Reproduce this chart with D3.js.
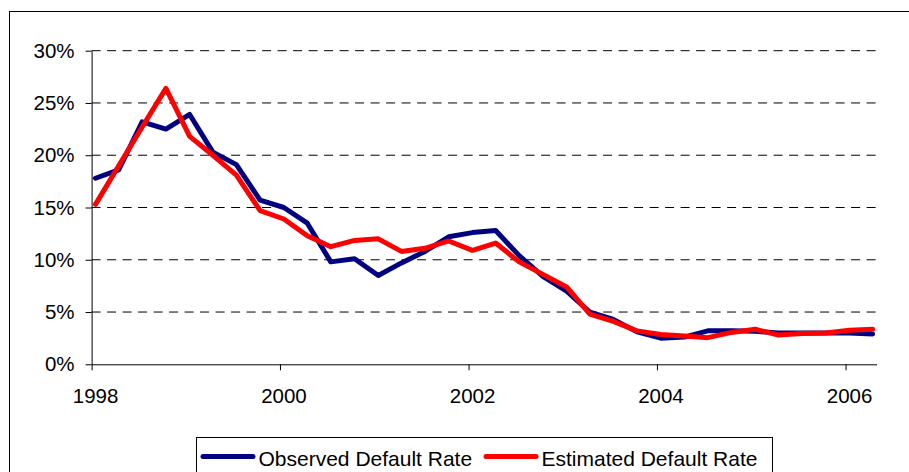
<!DOCTYPE html>
<html lang="en">
<head>
    <meta charset="utf-8">
    <script src="https://d3js.org/d3.v7.min.js"></script>
    <style>
        body { margin: 0; background: #fff; }
        text { font-family: Arial, "Liberation Sans", sans-serif; fill: #000; }
    </style>
</head>
<body>
    <svg id="chart"></svg>

    <script type="text/javascript" charset="utf-8">
        // quarterly observations, 1998 Q1 .. 2006 Q2
        const quarters = [
            "1998-01-16", "1998-04-16", "1998-07-16", "1998-10-16",
            "1999-01-16", "1999-04-16", "1999-07-16", "1999-10-16",
            "2000-01-16", "2000-04-16", "2000-07-16", "2000-10-16",
            "2001-01-16", "2001-04-16", "2001-07-16", "2001-10-16",
            "2002-01-16", "2002-04-16", "2002-07-16", "2002-10-16",
            "2003-01-16", "2003-04-16", "2003-07-16", "2003-10-16",
            "2004-01-16", "2004-04-16", "2004-07-16", "2004-10-16",
            "2005-01-16", "2005-04-16", "2005-07-16", "2005-10-16",
            "2006-01-16", "2006-04-16"
        ];
        // default rates in %
        const observed = [
            17.8, 18.6, 23.2, 22.5, 23.9, 20.3, 19.1, 15.7,
            15.0, 13.5, 9.8, 10.1, 8.5, 9.7, 10.8, 12.2,
            12.6, 12.8, 10.4, 8.4, 7.0, 5.0, 4.3, 3.1,
            2.5, 2.6, 3.2, 3.2, 3.15, 3.0, 3.0, 3.0,
            3.0, 2.9
        ];
        const estimated = [
            15.3, 19.0, 22.7, 26.4, 21.8, 20.0, 18.1, 14.7,
            13.9, 12.3, 11.25, 11.85, 12.0, 10.8, 11.1, 11.8,
            10.9, 11.6, 9.8, 8.6, 7.4, 4.8, 4.1, 3.2,
            2.85, 2.7, 2.55, 3.05, 3.35, 2.8, 2.95, 3.0,
            3.25, 3.35
        ];
        const yTicks = [0, 5, 10, 15, 20, 25, 30];
        const xTickYears = ["1998", "2000", "2002", "2004", "2006"];
        const seriesNames = ["Observed Default Rate", "Estimated Default Rate"];
        const seriesColors = ["#000080", "#ff0000"];

        const width = 909, height = 472;
        const plot = { left: 91.6, right: 876.5, top: 50.7, bottom: 364.3 };

        const svg = d3.select("#chart")
            .attr("width", width)
            .attr("height", height);

        svg.append("rect")
            .attr("width", width).attr("height", height)
            .attr("fill", "#fff");

        // outer chart border (cropped on right and bottom)
        svg.append("rect")
            .attr("x", 9.5).attr("y", 11.5)
            .attr("width", 920).attr("height", 480)
            .attr("fill", "none").attr("stroke", "#000").attr("stroke-width", 1);

        const parse = d3.timeParse("%Y-%m-%d");
        const dates = quarters.map(parse);

        const x = d3.scaleTime()
            .domain([new Date(1998, 0, 1), new Date(2006, 4, 1)])
            .range([plot.left, plot.right]);

        const y = d3.scaleLinear()
            .domain([0, 30])
            .range([plot.bottom, plot.top]);

        // dashed gridlines
        svg.append("g")
            .selectAll("line")
            .data(yTicks.filter(d => d > 0))
            .enter().append("line")
            .attr("x1", plot.left).attr("x2", plot.right)
            .attr("y1", d => y(d)).attr("y2", d => y(d))
            .attr("stroke", "#000")
            .attr("stroke-width", 1)
            .attr("stroke-dasharray", "9,6.5");

        // y axis
        const yAxis = svg.append("g")
            .attr("transform", `translate(${plot.left},0)`)
            .call(d3.axisLeft(y).tickValues(yTicks).tickSize(6).tickSizeOuter(0)
                .tickPadding(11).tickFormat(d => d + "%"));
        yAxis.select(".domain").attr("stroke", "#000");
        yAxis.selectAll("text")
            .attr("font-size", "20.5px")
            .attr("font-family", "Arial, 'Liberation Sans', sans-serif");

        // x axis
        const xTickDates = xTickYears.map(d => new Date(+d, 0, 1));
        const xAxis = svg.append("g")
            .attr("transform", `translate(0,${plot.bottom})`)
            .call(d3.axisBottom(x).tickValues(xTickDates).tickSize(6).tickSizeOuter(0)
                .tickFormat((d, i) => xTickYears[i]));
        xAxis.select(".domain").attr("stroke", "#000");
        xAxis.selectAll("text")
            .attr("font-size", "20.5px")
            .attr("font-family", "Arial, 'Liberation Sans', sans-serif")
            .attr("y", 38.7).attr("dy", 0).attr("dx", 3.5);

        // series lines
        const line = d3.line()
            .x((d, i) => x(dates[i]))
            .y(d => y(d));

        [observed, estimated].forEach((series, k) => {
            svg.append("path")
                .datum(series)
                .attr("d", line)
                .attr("fill", "none")
                .attr("stroke", seriesColors[k])
                .attr("stroke-width", 5)
                .attr("stroke-linejoin", "round")
                .attr("stroke-linecap", "round");
        });

        // legend (bottom edge runs past the picture)
        const legend = svg.append("g");
        legend.append("rect")
            .attr("x", 196.5).attr("y", 437.5)
            .attr("width", 576).attr("height", 45)
            .attr("fill", "#fff").attr("stroke", "#000").attr("stroke-width", 1);

        const legendX = [203, 486];
        seriesNames.forEach((name, k) => {
            legend.append("line")
                .attr("x1", legendX[k]).attr("x2", legendX[k] + 50)
                .attr("y1", 456.5).attr("y2", 456.5)
                .attr("stroke", seriesColors[k])
                .attr("stroke-width", 5)
                .attr("stroke-linecap", "round");
            legend.append("text")
                .attr("x", legendX[k] + 55.5)
                .attr("y", 466)
                .attr("font-size", "21px")
                .text(name);
        });
    </script>
</body>
</html>
